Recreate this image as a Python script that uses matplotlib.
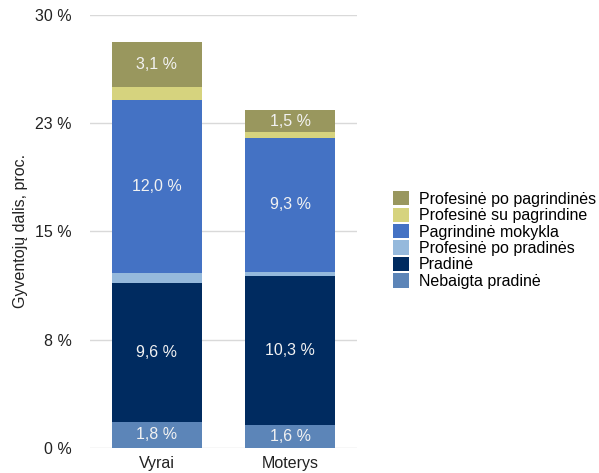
import matplotlib.pyplot as plt
from matplotlib.ticker import FuncFormatter

plt.rcParams['font.family'] = ['Liberation Sans', 'DejaVu Sans']

groups = ['Vyrai', 'Moterys']
layers = ['Nebaigta pradinė', 'Pradinė', 'Profesinė po pradinės',
          'Pagrindinė mokykla', 'Profesinė su pagrindine', 'Profesinė po pagrindinės']
values = {
    'Nebaigta pradinė': [1.8, 1.6],
    'Pradinė': [9.6, 10.3],
    'Profesinė po pradinės': [0.7, 0.3],
    'Pagrindinė mokykla': [12.0, 9.3],
    'Profesinė su pagrindine': [0.9, 0.4],
    'Profesinė po pagrindinės': [3.1, 1.5],
}
colors = {
    'Nebaigta pradinė': '#5c85b8',
    'Pradinė': '#002b60',
    'Profesinė po pradinės': '#95b9dc',
    'Pagrindinė mokykla': '#4472c4',
    'Profesinė su pagrindine': '#d6d37e',
    'Profesinė po pagrindinės': '#99975e',
}
yticks = [0, 7.5, 15, 22.5, 30]

fig = plt.figure(figsize=(5.99, 4.73), dpi=100)
ax = fig.add_axes([90 / 599, 1 - 447.7 / 473, 267 / 599, 432.7 / 473])

x = list(range(len(groups)))
bottom = [0.0] * len(groups)
handles = []
for name in layers:
    vals = values[name]
    b = ax.bar(x, vals, width=0.674, bottom=bottom, color=colors[name], label=name, zorder=3)
    handles.append(b)
    for i, v in enumerate(vals):
        if v >= 1:
            ax.text(x[i], bottom[i] + v / 2, f"{v:.1f} %".replace('.', ','),
                    ha='center', va='center', color='#f2f2f2', fontsize=11.5, zorder=4)
    bottom = [bottom[i] + vals[i] for i in range(len(vals))]

ax.set_xlim(-0.5, 1.5)
ax.set_ylim(0, 30)
ax.set_yticks(yticks)
ax.yaxis.set_major_formatter(FuncFormatter(lambda v, p: f"{int(v + 0.5)} %"))
ax.set_xticks(x)
ax.set_xticklabels(groups)
ax.tick_params(axis='both', length=0, labelsize=11.5, colors='#222222', pad=13)
ax.tick_params(axis='x', pad=6)
ax.grid(axis='y', color='#d9d9d9', linewidth=1, zorder=0)
for s in ax.spines.values():
    s.set_visible(False)
ax.set_ylabel('Gyventojų dalis, proc.', fontsize=11.5, color='#222222', labelpad=5)

leg = fig.legend(handles[::-1], layers[::-1], loc='center left',
                 bbox_to_anchor=(393 / 599, 1 - 240 / 473), frameon=False,
                 fontsize=11.5, handlelength=1.0, handleheight=1.0,
                 labelspacing=0.05, handletextpad=0.6, borderaxespad=0, borderpad=0)

fig.savefig('out.png', dpi=100)
